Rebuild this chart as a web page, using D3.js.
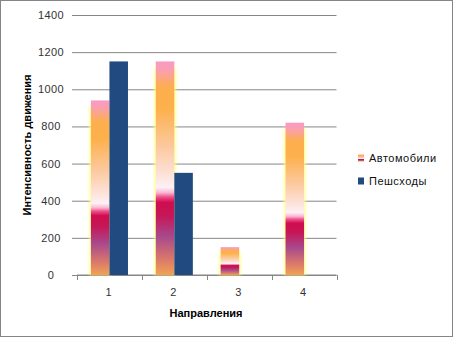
<!DOCTYPE html>
<html>
<head>
<meta charset="utf-8">
<script src="https://cdn.jsdelivr.net/npm/d3@7"></script>
<style>
  html, body { margin: 0; padding: 0; background: #fff; }
  svg { display: block; }
  text { font-family: "Liberation Sans", Arial, sans-serif; }
</style>
</head>
<body>
<script>
// Traffic intensity by direction
const categories = ["1", "2", "3", "4"];
const seriesNames = ["Автомобили", "Пешсходы"];
const cars = [940, 1150, 150, 820];
const pedestrians = [1150, 550, 0, 0];
const yTicks = [0, 200, 400, 600, 800, 1000, 1200, 1400];

const W = 454, H = 339;
const plot = { left: 77, right: 336.5, top: 15, bottom: 275 };

const svg = d3.select("body").append("svg")
  .attr("width", W).attr("height", H);

const defs = svg.append("defs");

// Multi-stop vertical fill used by the car bars
const grad = defs.append("linearGradient")
  .attr("id", "carFill")
  .attr("x1", 0).attr("y1", 0).attr("x2", 0).attr("y2", 1);
[
  [0.00, "#f99ac4"],
  [0.04, "#fa9fb0"],
  [0.12, "#fdae4e"],
  [0.22, "#fdb04c"],
  [0.40, "#fcc99e"],
  [0.52, "#fde0d4"],
  [0.59, "#fdf0f6"],
  [0.615, "#f9b6cf"],
  [0.635, "#f04d8c"],
  [0.66, "#cf0d4f"],
  [0.72, "#c61656"],
  [0.82, "#a8498d"],
  [0.92, "#d8756c"],
  [1.00, "#f2a255"]
].forEach(([o, c]) => grad.append("stop").attr("offset", o).attr("stop-color", c));

const glow = defs.append("filter").attr("id", "glow")
  .attr("x", "-50%").attr("y", "-10%").attr("width", "200%").attr("height", "120%");
glow.append("feGaussianBlur").attr("stdDeviation", 1.5);

// Outer frame
svg.append("rect")
  .attr("x", 0.5).attr("y", 0.5).attr("width", 452).attr("height", 336)
  .attr("fill", "#fff").attr("stroke", "#858585");

const x = d3.scaleBand().domain(categories).range([plot.left, plot.right]).padding(0);
const bw = x.bandwidth();
const barW = bw / 3.5;
const xs = d3.scaleBand().domain(seriesNames)
  .range([barW * 0.75, barW * 0.75 + 2 * barW]).padding(0);
const y = d3.scaleLinear().domain([0, 1400]).range([plot.bottom, plot.top]);

// Gridlines with outside ticks
const yAxis = d3.axisLeft(y).tickValues(yTicks)
  .tickSize(plot.right - plot.left + 5).tickFormat("");
const yg = svg.append("g")
  .attr("transform", `translate(${plot.right},0)`)
  .call(yAxis);
yg.select(".domain").remove();
yg.selectAll(".tick line").attr("stroke", "#868686");

// Value labels
svg.append("g").selectAll("text").data(yTicks).join("text")
  .attr("x", 51).attr("y", d => y(d) + 4)
  .attr("text-anchor", "middle")
  .attr("font-size", 11).attr("fill", "#333").attr("letter-spacing", 0.4)
  .text(d => d);

// Category axis with boundary ticks
const xg = svg.append("g").attr("transform", `translate(0,${plot.bottom})`);
xg.append("line")
  .attr("x1", plot.left).attr("x2", plot.right)
  .attr("stroke", "#868686");
const bounds = categories.map(c => x(c)).concat([plot.right]);
xg.selectAll("line.tk").data(bounds).join("line").attr("class", "tk")
  .attr("x1", d => Math.round(d) + 0.5).attr("x2", d => Math.round(d) + 0.5)
  .attr("y1", 0).attr("y2", 5).attr("stroke", "#868686");
xg.selectAll("text").data(categories).join("text")
  .attr("x", d => x(d) + bw / 2 - 1).attr("y", 21)
  .attr("text-anchor", "middle").attr("font-size", 11).attr("fill", "#333")
  .text(d => d);

// Car bars: soft yellow halo behind a gradient column
const carG = svg.append("g");
carG.selectAll("rect.halo").data(cars).join("rect").attr("class", "halo")
  .attr("x", (d, i) => x(categories[i]) + xs(seriesNames[0]) - 1.5)
  .attr("y", d => y(d) + 6)
  .attr("width", barW + 3)
  .attr("height", d => Math.max(0, plot.bottom - y(d) - 6))
  .attr("fill", "#ffff80").attr("opacity", 0.85)
  .attr("filter", "url(#glow)");
carG.selectAll("rect.bar").data(cars).join("rect").attr("class", "bar")
  .attr("x", (d, i) => x(categories[i]) + xs(seriesNames[0]))
  .attr("y", d => y(d))
  .attr("width", barW)
  .attr("height", d => plot.bottom - y(d))
  .attr("fill", "url(#carFill)");

// Pedestrian bars
svg.append("g").selectAll("rect").data(pedestrians).join("rect")
  .attr("x", (d, i) => x(categories[i]) + xs(seriesNames[1]))
  .attr("y", d => y(d))
  .attr("width", barW)
  .attr("height", d => plot.bottom - y(d))
  .attr("fill", "#214a80");

// Axis titles
svg.append("text")
  .attr("transform", `translate(31,${(plot.top + plot.bottom) / 2}) rotate(-90)`)
  .attr("text-anchor", "middle").attr("font-size", 11).attr("font-weight", "bold")
  .text("Интенсивность движения");
svg.append("text")
  .attr("x", 206).attr("y", 317)
  .attr("text-anchor", "middle").attr("font-size", 11).attr("font-weight", "bold")
  .text("Направления");

// Legend
const legend = svg.append("g");
const legendY = [158, 181];
const legendFill = ["url(#carFill)", "#214a80"];
seriesNames.forEach((name, i) => {
  legend.append("rect")
    .attr("x", 358).attr("y", legendY[i] - 3.5)
    .attr("width", 6).attr("height", 7)
    .attr("fill", legendFill[i]);
  legend.append("text")
    .attr("x", 369).attr("y", legendY[i] + 4)
    .attr("font-size", 11).attr("fill", "#111").attr("letter-spacing", 0.5)
    .text(name);
});
</script>
</body>
</html>
